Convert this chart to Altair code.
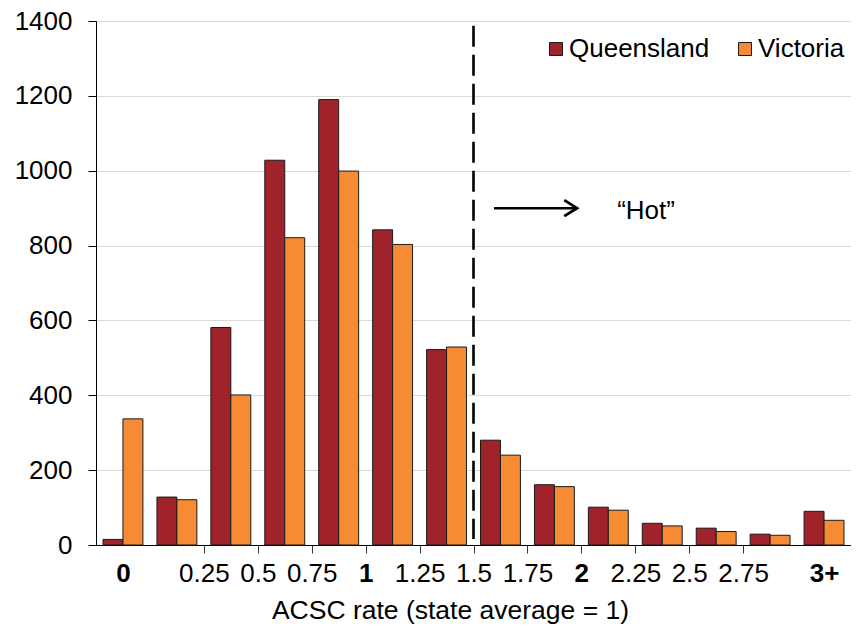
import altair as alt
import pandas as pd

# ---- data ----
bin_index = list(range(14))
queensland = [15, 128, 581, 1028, 1190, 842, 522, 280, 161, 101, 58, 45, 29, 90]
victoria = [337, 121, 401, 821, 999, 803, 529, 240, 156, 93, 51, 36, 26, 66]
series = ["Queensland", "Victoria"]
colors = ["#A0222A", "#F68B33"]

tick_positions = [0.5, 2, 3, 4, 5, 6, 7, 8, 9, 10, 11, 12, 13.5]
tick_labels = ["0", "0.25", "0.5", "0.75", "1", "1.25", "1.5", "1.75", "2", "2.25", "2.5", "2.75", "3+"]
bold_labels = ["0", "1", "2", "3+"]
no_tick_positions = [0.5, 13.5]
y_ticks = [0, 200, 400, 600, 800, 1000, 1200, 1400]

hot_threshold = [7]          # boundary at rate 1.5
hot_line_top = [1387]
hot_line_bottom = [16]
arrow_start = [7.38]
arrow_end = [8.92]
arrow_level = [900]
hot_label = ["\u201cHot\u201d"]
hot_label_x = [10.2]
hot_label_y = [893]

# ---- build tables ----
offsets = {"Queensland": (0.13, 0.5), "Victoria": (0.5, 0.87)}
rows = []
for name, vals in zip(series, [queensland, victoria]):
    for i, v in zip(bin_index, vals):
        rows.append({"state": name, "idx": i, "x0": i + offsets[name][0],
                     "x1": i + offsets[name][1], "value": v})
bars_df = pd.DataFrame(rows)

label_map = "{" + ",".join(f"'{p:g}':'{l}'" for p, l in zip(tick_positions, tick_labels)) + "}"
bold_pos = [p for p, l in zip(tick_positions, tick_labels) if l in bold_labels]
bold_test = " || ".join(f"datum.value == {p:g}" for p in bold_pos)
notick_test = " || ".join(f"datum.value == {p:g}" for p in no_tick_positions)

FONT = "Liberation Sans"
FS = 26
W, H = 755, 524

xscale = alt.Scale(domain=[0, 14], nice=False, zero=False)
yscale = alt.Scale(domain=[0, 1400], nice=False)

X_TITLE = "ACSC rate (state average = 1)"
x_axis = alt.Axis(
    values=tick_positions,
    labelExpr=label_map + "[datum.value]",
    labelFontWeight={"condition": {"test": bold_test, "value": "bold"}, "value": "normal"},
    tickOpacity={"condition": {"test": notick_test, "value": 0}, "value": 1},
    titleX=354, titleY=73, titleBaseline="alphabetic", titleAnchor="start", titleAlign="center",
    titleFontSize=26.5,
    grid=False, labelPadding=7, labelFlush=False, labelOverlap=False,
)
y_axis = alt.Axis(values=y_ticks, format="d", labelPadding=16, grid=True)


def X(field):
    return alt.X(field, scale=xscale, axis=x_axis, title=X_TITLE)


def Y(field):
    return alt.Y(field, scale=yscale, axis=y_axis, title=None)


bars = alt.Chart(bars_df).mark_bar(stroke="#1a1a1a", strokeWidth=1).encode(
    x=X("x0:Q"),
    x2="x1:Q",
    y=Y("value:Q"),
    y2=alt.datum(0),
    color=alt.Color("state:N", scale=alt.Scale(domain=series, range=colors),
                    legend=alt.Legend(title=None, orient="none", direction="horizontal",
                                      legendX=447, legendY=15, symbolType="square",
                                      symbolSize=169, symbolStrokeColor="#1a1a1a",
                                      symbolStrokeWidth=1, symbolOpacity=1,
                                      labelFontSize=FS, labelFont=FONT, labelColor="black",
                                      labelOffset=0, columnPadding=22, labelLimit=300)),
)

line_df = pd.DataFrame({"x": hot_threshold, "y": hot_line_top, "y2": hot_line_bottom})
dashed = alt.Chart(line_df).mark_rule(color="black", strokeWidth=2.6, strokeDash=[21, 8]).encode(
    x=X("x:Q"),
    y=Y("y:Q"),
    y2="y2:Q",
)

arrow_df = pd.DataFrame({"x": arrow_start, "x2": arrow_end, "y": arrow_level})
shaft = alt.Chart(arrow_df).mark_rule(color="black", strokeWidth=2.5).encode(
    x=X("x:Q"),
    x2="x2:Q",
    y=Y("y:Q"),
)
head = alt.Chart(arrow_df).mark_point(
    shape="M-1.6,-1L0,0L-1.6,1", filled=False, stroke="black", strokeWidth=2.8,
    size=256, opacity=1).encode(
    x=X("x2:Q"),
    y=Y("y:Q"),
)

hot_df = pd.DataFrame({"x": hot_label_x, "y": hot_label_y, "t": hot_label})
hot = alt.Chart(hot_df).mark_text(font=FONT, fontSize=26, color="black").encode(
    x=X("x:Q"),
    y=Y("y:Q"),
    text="t:N",
)

chart = alt.layer(bars, dashed, shaft, head, hot).properties(
    width=W, height=H,
    autosize=alt.AutoSizeParams(type="none"),
    padding={"left": 88, "top": 13, "right": 0, "bottom": 79},
).configure_view(stroke=None).configure_axis(
    labelFont=FONT, titleFont=FONT, labelFontSize=FS, titleFontSize=FS,
    labelColor="black", titleColor="black", titleFontWeight="normal",
    domainColor="black", domainWidth=1, tickColor="#333333", tickSize=8, tickWidth=1,
    gridColor="#d9d9d9", gridWidth=1,
).configure_axisY(domainColor="#000000", tickColor="#000000")

chart.save("out.html", embed_options={"renderer": "svg", "actions": False})
